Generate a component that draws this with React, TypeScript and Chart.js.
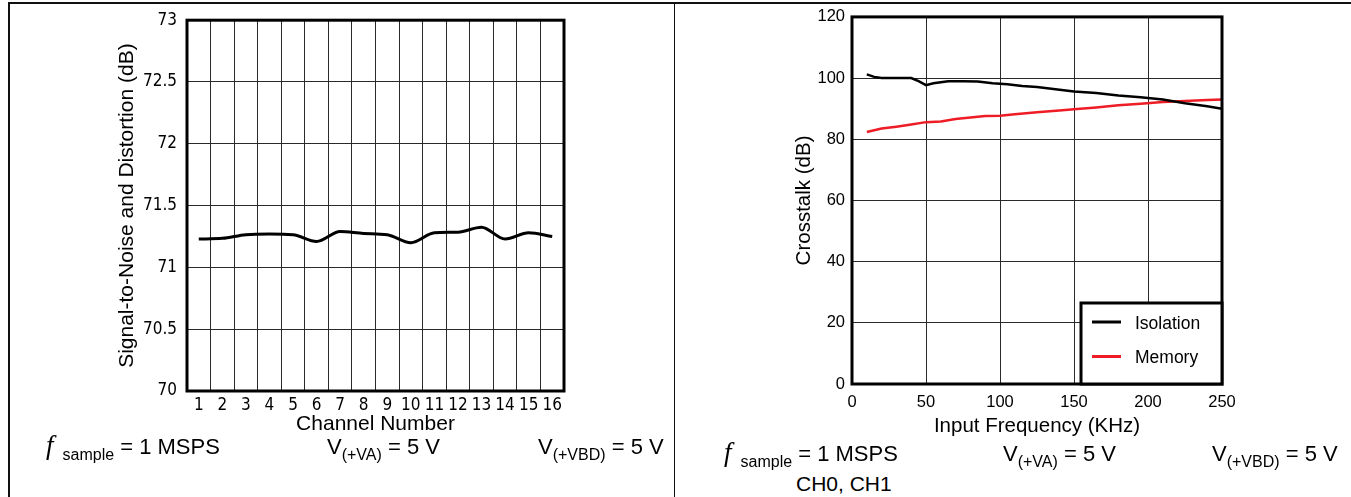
import React, { useEffect, useRef } from "react";
import { Chart, registerables } from "chart.js";

Chart.register(...registerables);

// ---------- Left chart data: SINAD vs channel ----------
const channelLabels = ["1", "2", "3", "4", "5", "6", "7", "8", "9", "10", "11", "12", "13", "14", "15", "16"];
const sinadValues = [71.23, 71.235, 71.265, 71.27, 71.265, 71.21, 71.29, 71.275, 71.265, 71.2, 71.28, 71.285, 71.325, 71.23, 71.28, 71.25];
const sinadTickLabels = ["70", "70.5", "71", "71.5", "72", "72.5", "73"];

// ---------- Right chart data: crosstalk vs frequency ----------
const isolationFreq = [10, 15, 20, 30, 40, 45, 50, 55, 65, 75, 85, 95, 105, 115, 125, 150, 165, 180, 195, 210, 225, 240, 250];
const isolationValues = [101.2, 100.4, 100, 100, 100, 99, 97.7, 98.3, 99, 99, 98.9, 98.3, 98, 97.4, 97.1, 95.6, 95.1, 94.3, 93.7, 93, 91.8, 90.8, 90];
const memoryFreq = [10, 20, 30, 40, 50, 60, 70, 80, 90, 100, 110, 125, 140, 150, 165, 180, 195, 210, 225, 240, 250];
const memoryValues = [82.4, 83.5, 84.1, 84.8, 85.6, 85.8, 86.6, 87.1, 87.6, 87.7, 88.2, 88.8, 89.4, 89.8, 90.4, 91.1, 91.6, 92.2, 92.5, 92.8, 93.0];
const crosstalkXTicks = ["0", "50", "100", "150", "200", "250"];
const crosstalkYTicks = ["0", "20", "40", "60", "80", "100", "120"];

const SANS = '"Liberation Sans", Arial, Helvetica, sans-serif';
const NARROW = '"Liberation Sans Narrow", "Arial Narrow", "DejaVu Sans Condensed", sans-serif';
const GRID = "#2a2a2a";

const frameBorder = {
  id: "frameBorder",
  afterDraw(chart: any) {
    const { ctx, chartArea: a } = chart;
    ctx.save();
    ctx.strokeStyle = "#000";
    ctx.lineWidth = 3;
    ctx.strokeRect(a.left, a.top, a.right - a.left, a.bottom - a.top);
    ctx.restore();
  },
};

const boxLegend = {
  id: "boxLegend",
  afterDraw(chart: any) {
    const { ctx, chartArea: a } = chart;
    const w = 141;
    const h = 81;
    const x0 = a.right - w;
    const y0 = a.bottom - h;
    ctx.save();
    ctx.fillStyle = "#fff";
    ctx.fillRect(x0, y0, w, h);
    ctx.lineWidth = 3;
    ctx.strokeStyle = "#000";
    ctx.strokeRect(x0, y0, w, h);
    chart.data.datasets.forEach((ds: any, i: number) => {
      const y = y0 + 19 + i * 34.5;
      ctx.strokeStyle = ds.borderColor;
      ctx.lineWidth = 3;
      ctx.beginPath();
      ctx.moveTo(x0 + 11, y);
      ctx.lineTo(x0 + 40, y);
      ctx.stroke();
      ctx.fillStyle = "#000";
      ctx.font = `17.5px ${SANS}`;
      ctx.textBaseline = "middle";
      ctx.textAlign = "left";
      ctx.fillText(ds.label, x0 + 54, y + 2);
    });
    ctx.restore();
  },
};

function leftConfig(): any {
  return {
    type: "line",
    data: {
      labels: channelLabels,
      datasets: [
        {
          label: "SINAD",
          data: sinadValues,
          borderColor: "#000",
          borderWidth: 3,
          pointRadius: 0,
          cubicInterpolationMode: "monotone",
          fill: false,
        },
      ],
    },
    options: {
      responsive: false,
      animation: false,
      devicePixelRatio: 1,
      layout: { padding: { left: 0, right: 111, top: 15, bottom: 0 } },
      plugins: { legend: { display: false }, tooltip: { enabled: false } },
      scales: {
        x: {
          type: "category",
          offset: true,
          grid: { offset: true, color: GRID, lineWidth: 1, drawTicks: false },
          border: { display: false },
          ticks: { autoSkip: false, maxRotation: 0, padding: 4, color: "#000", font: { family: NARROW, size: 17 } },
          title: { display: true, text: "Channel Number", color: "#000", font: { family: SANS, size: 21 }, padding: { top: 0, bottom: 3.4 } },
          afterFit: (s: any) => { s.height = 49; },
        },
        y: {
          type: "linear",
          min: 70,
          max: 73,
          grid: { color: GRID, lineWidth: 1, drawTicks: false },
          border: { display: false },
          ticks: {
            stepSize: 0.5,
            padding: 10,
            color: "#000",
            font: { family: NARROW, size: 17 },
            callback: (_v: any, i: number) => sinadTickLabels[i],
          },
          title: { display: true, text: "Signal-to-Noise and Distortion (dB)", color: "#000", font: { family: SANS, size: 21 }, padding: { top: 114.4, bottom: 0 } },
          afterFit: (s: any) => { s.width = 187; },
        },
      },
    },
    plugins: [frameBorder],
  };
}

function rightConfig(): any {
  return {
    type: "line",
    data: {
      datasets: [
        {
          label: "Isolation",
          data: isolationFreq.map((f, i) => ({ x: f, y: isolationValues[i] })),
          borderColor: "#000",
          borderWidth: 2.5,
          pointRadius: 0,
          fill: false,
        },
        {
          label: "Memory",
          data: memoryFreq.map((f, i) => ({ x: f, y: memoryValues[i] })),
          borderColor: "#ee1c25",
          borderWidth: 2.5,
          pointRadius: 0,
          fill: false,
        },
      ],
    },
    options: {
      responsive: false,
      animation: false,
      devicePixelRatio: 1,
      layout: { padding: { left: 0, right: 129, top: 13, bottom: 0 } },
      plugins: { legend: { display: false }, tooltip: { enabled: false } },
      scales: {
        x: {
          type: "linear",
          min: 0,
          max: 250,
          grid: { color: GRID, lineWidth: 1, drawTicks: false },
          border: { display: false },
          ticks: {
            stepSize: 50,
            padding: 9,
            maxRotation: 0,
            color: "#000",
            font: { family: SANS, size: 16.5 },
            callback: (_v: any, i: number) => crosstalkXTicks[i],
          },
          title: { display: true, text: "Input Frequency (KHz)", color: "#000", font: { family: SANS, size: 20.5 }, padding: { top: 0, bottom: 1.7 } },
          afterFit: (s: any) => { s.height = 56; },
        },
        y: {
          type: "linear",
          min: 0,
          max: 120,
          grid: { color: GRID, lineWidth: 1, drawTicks: false },
          border: { display: false },
          ticks: {
            stepSize: 20,
            padding: 7,
            color: "#000",
            font: { family: SANS, size: 16.5 },
            callback: (_v: any, i: number) => crosstalkYTicks[i],
          },
          title: { display: true, text: "Crosstalk (dB)", color: "#000", font: { family: SANS, size: 20.5 }, padding: { top: 116.7, bottom: 0 } },
          afterFit: (s: any) => { s.width = 177; },
        },
      },
    },
    plugins: [frameBorder, boxLegend],
  };
}

const MAIN = 22;
const SUB = 16;

function Line({ left, baseline, size = MAIN, children }: any) {
  const lh = 26;
  const top = baseline - ((lh - 1.117 * size) / 2 + 0.905 * size);
  return (
    <div
      style={{
        position: "absolute",
        left,
        top,
        fontSize: size,
        lineHeight: `${lh}px`,
        whiteSpace: "nowrap",
        fontFamily: SANS,
        color: "#000",
      }}
    >
      {children}
    </div>
  );
}

function Sub({ children }: any) {
  return <span style={{ fontSize: SUB, position: "relative", top: 6, lineHeight: 0 }}>{children}</span>;
}

function F() {
  return (
    <span style={{ fontFamily: '"Liberation Serif", serif', fontStyle: "italic", fontSize: 27, lineHeight: 0, marginLeft: 2, marginRight: 9 }}>f</span>
  );
}

export default function App() {
  const leftRef = useRef<HTMLCanvasElement>(null);
  const rightRef = useRef<HTMLCanvasElement>(null);

  useEffect(() => {
    const l = new Chart(leftRef.current as HTMLCanvasElement, leftConfig());
    const r = new Chart(rightRef.current as HTMLCanvasElement, rightConfig());
    return () => {
      l.destroy();
      r.destroy();
    };
  }, []);

  return (
    <div style={{ position: "fixed", left: 0, top: 0, width: 1351, height: 497, background: "#fff", overflow: "hidden" }}>
      <div style={{ position: "absolute", left: 8, top: 2, width: 1343, height: 1.5, background: "#111" }} />
      <div style={{ position: "absolute", left: 8, top: 2, width: 1.5, height: 495, background: "#111" }} />
      <div style={{ position: "absolute", left: 673.5, top: 2, width: 1.5, height: 495, background: "#111" }} />
      <canvas ref={leftRef} width={675} height={440} style={{ position: "absolute", left: 0, top: 0, width: 675, height: 440 }} />
      <canvas ref={rightRef} width={676} height={440} style={{ position: "absolute", left: 675, top: 0, width: 676, height: 440 }} />

      <Line left={44} baseline={455}>
        <F />
        <Sub>sample</Sub> = 1 MSPS
      </Line>
      <Line left={327} baseline={455}>
        V<Sub>(+VA)</Sub> = 5 V
      </Line>
      <Line left={538} baseline={455}>
        V<Sub>(+VBD)</Sub> = 5 V
      </Line>

      <Line left={722} baseline={461.5}>
        <F />
        <Sub>sample</Sub> = 1 MSPS
      </Line>
      <Line left={796} baseline={491.5} size={21}>
        CH0, CH1
      </Line>
      <Line left={1003} baseline={461.5}>
        V<Sub>(+VA)</Sub> = 5 V
      </Line>
      <Line left={1212} baseline={461.5}>
        V<Sub>(+VBD)</Sub> = 5 V
      </Line>
    </div>
  );
}
